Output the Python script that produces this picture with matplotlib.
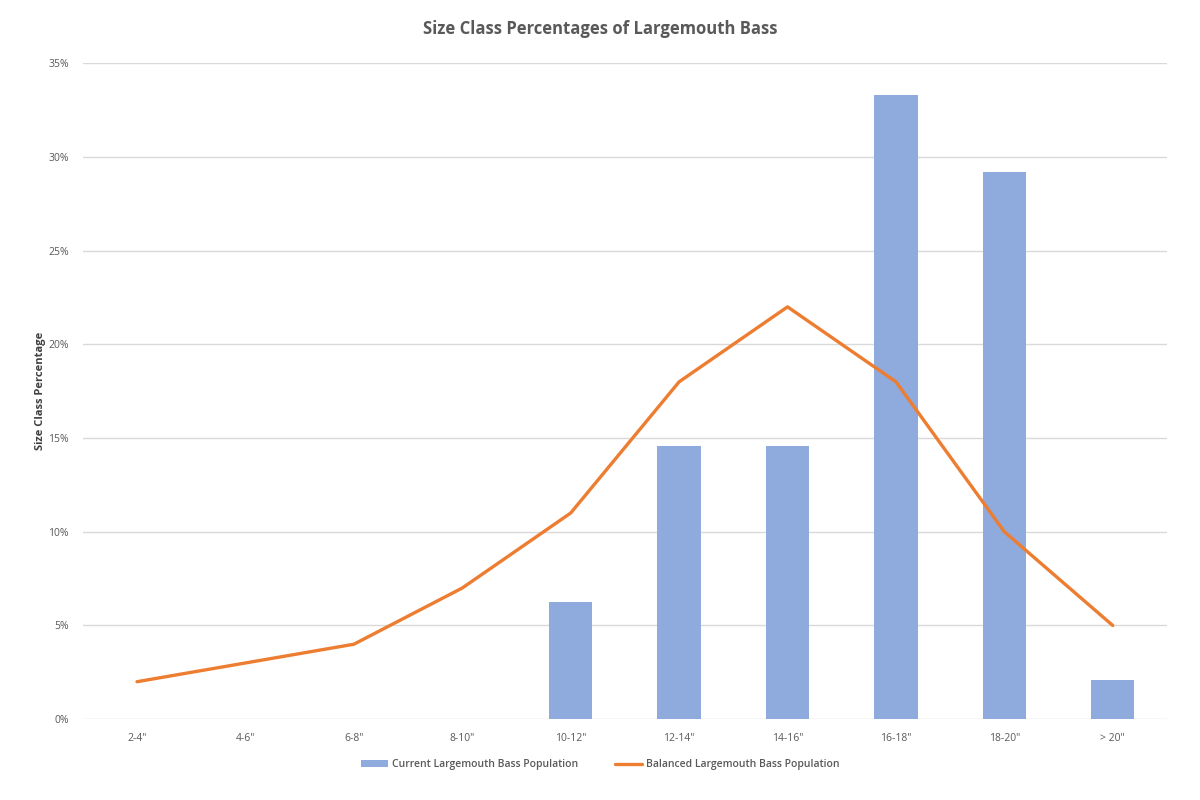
import matplotlib
matplotlib.use("Agg")
import matplotlib.pyplot as plt
from matplotlib.ticker import FuncFormatter
import numpy as np

categories = ['2-4"', '4-6"', '6-8"', '8-10"', '10-12"', '12-14"', '14-16"', '16-18"', '18-20"', '> 20"']
current = [0, 0, 0, 0, 6.25, 14.58, 14.58, 33.33, 29.17, 2.08]
balanced = [2, 3, 4, 7, 11, 18, 22, 18, 10, 5]

plt.rcParams['font.family'] = ['Open Sans', 'DejaVu Sans']

fig = plt.figure(figsize=(12, 8), dpi=100)
ax = fig.add_axes([0.069, 0.101, 0.9035, 0.82])

x = np.arange(len(categories))
bars = ax.bar(x, current, width=0.4, color='#8FAADC', label='Current Largemouth Bass Population', zorder=2)
line, = ax.plot(x, balanced, color='#ED7D31', linewidth=2.4, label='Balanced Largemouth Bass Population', zorder=3,
                solid_joinstyle='round', solid_capstyle='round')

ax.set_xlim(-0.5, len(categories) - 0.5)
ax.set_ylim(0, 35)
ax.set_yticks(np.arange(0, 36, 5))
ax.yaxis.set_major_formatter(FuncFormatter(lambda v, p: f"{int(v)}%"))
ax.set_xticks(x)
ax.set_xticklabels(categories)
ax.tick_params(axis='both', length=0, labelsize=7.5, labelcolor='#595959', pad=10)
ax.grid(axis='y', color='#D9D9D9', linewidth=1, zorder=0)
for s in ax.spines.values():
    s.set_visible(False)

ax.set_ylabel('Size Class Percentage', fontsize=8, fontweight='bold', color='#404040', labelpad=2)
fig.suptitle('Size Class Percentages of Largemouth Bass', y=0.975, fontsize=12, fontweight='bold', color='#595959')

leg = fig.legend([bars, line], ['Current Largemouth Bass Population', 'Balanced Largemouth Bass Population'],
                 loc='center', bbox_to_anchor=(0.5, 0.044), ncol=2, frameon=False, fontsize=7.5,
                 handlelength=2.6, columnspacing=3.5, handletextpad=0.4,
                 prop={'weight': 'semibold', 'size': 7.5})
for t in leg.get_texts():
    t.set_color('#595959')

fig.savefig('out.png', dpi=100, facecolor='white')
